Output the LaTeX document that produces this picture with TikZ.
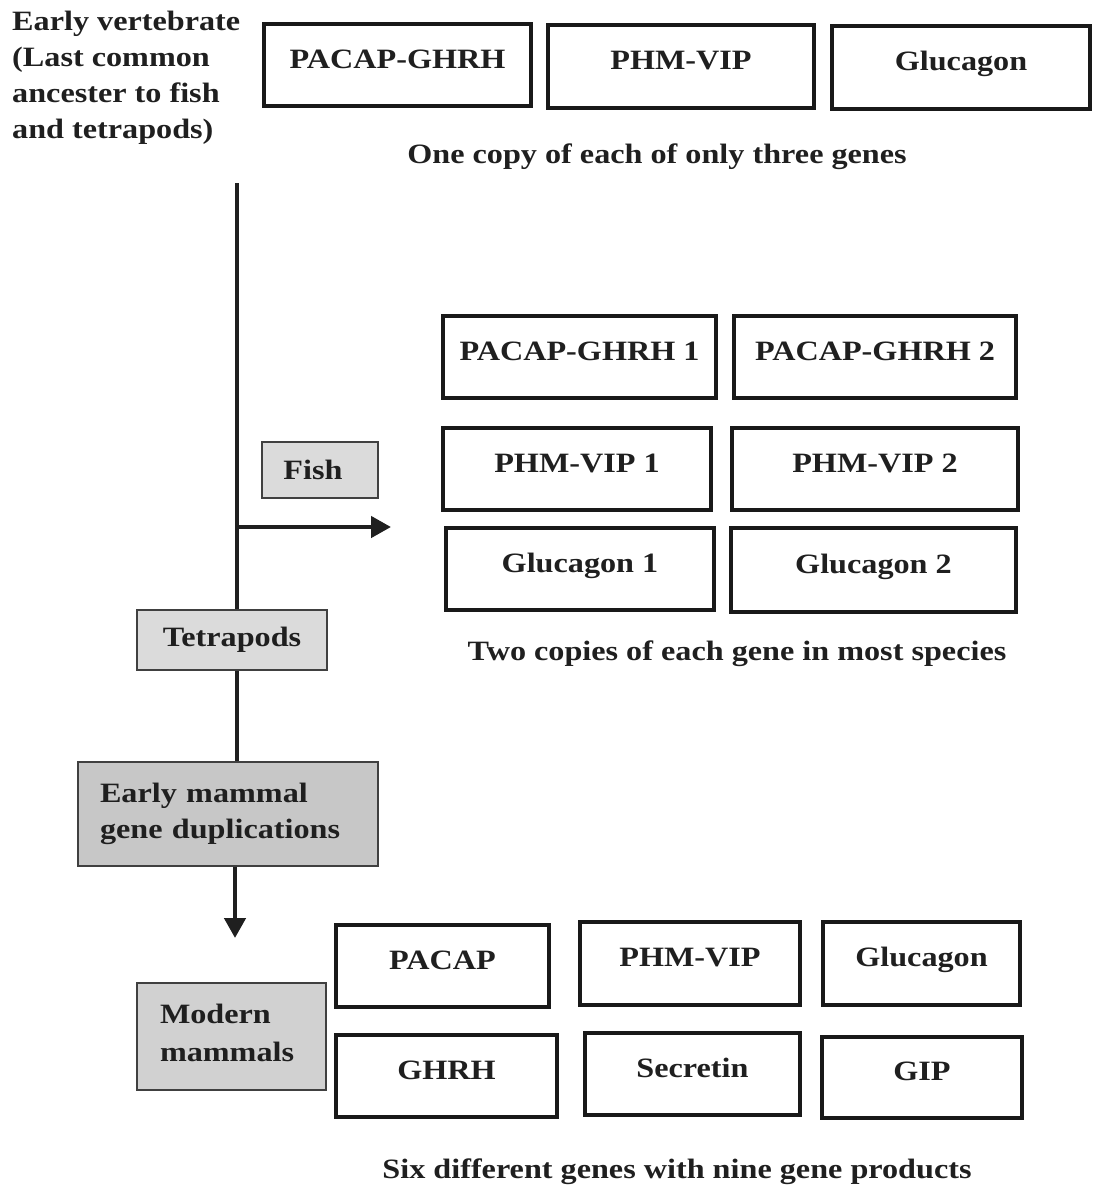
\documentclass[tikz,border=0pt]{standalone}
\usepackage{fontspec}
\setmainfont{Liberation Serif}[FakeStretch=1.15]
\usetikzlibrary{arrows.meta}
\begin{document}
\begin{tikzpicture}[x=1pt,y=-1pt,
  every node/.style={font=\fontsize{28}{36}\selectfont\bfseries, text=black!88},
  gene/.style={draw=black!90, line width=3.5pt, fill=white, inner sep=0pt,
    text height=20pt, text depth=14pt,
    font=\fontsize{28}{34}\selectfont\bfseries},
  stage/.style={draw=black!75, line width=1.3pt, fill=#1, inner sep=0pt},
  stage/.default=black!14,
  caption/.style={anchor=center, font=\fontsize{28}{32}\selectfont\bfseries},
  trunk/.style={draw=black!88, line width=4.5pt},
  tip/.style={-{Triangle[length=20pt,width=21pt]}}
]
\useasboundingbox (0,0) rectangle (1095,1189);

% ancestor label
\node[anchor=north west, align=left, inner sep=0pt] (anc) at (12,11)
  {Early vertebrate\\(Last common\\ancester to fish\\and tetrapods)};

% ancestral genes
\node[gene, minimum width=267pt, minimum height=82pt] (g1) at (397.5,65) {PACAP-GHRH};
\node[gene, minimum width=266pt, minimum height=83pt] (g2) at (681,66.5) {PHM-VIP};
\node[gene, minimum width=258pt, minimum height=83pt] (g3) at (961,67.5) {Glucagon};
\node[caption] (c1) at (657,157) {One copy of each of only three genes};

% fish genes
\node[gene, minimum width=273pt, minimum height=82pt] (f1) at (579.5,357) {PACAP-GHRH 1};
\node[gene, minimum width=282pt, minimum height=82pt] (f2) at (875,357) {PACAP-GHRH 2};
\node[gene, minimum width=268pt, minimum height=82pt] (f3) at (577,469) {PHM-VIP 1};
\node[gene, minimum width=286pt, minimum height=82pt] (f4) at (875,469) {PHM-VIP 2};
\node[gene, minimum width=268pt, minimum height=82pt] (f5) at (580,569) {Glucagon 1};
\node[gene, minimum width=285pt, minimum height=84pt] (f6) at (873.5,570) {Glucagon 2};
\node[caption] (c2) at (737,654) {Two copies of each gene in most species};

% lineage stages
\node[stage, minimum width=116pt, minimum height=56pt] (fish) at (320,470)
  {\hspace*{-14pt}Fish};
\node[stage, minimum width=190pt, minimum height=60pt] (tetra) at (232,640) {Tetrapods};
\node[stage=black!22, minimum width=300pt, minimum height=104pt, align=left,
  text width=256pt] (dup) at (228,814) {Early mammal\\gene duplications};
\node[stage=black!18, minimum width=189pt, minimum height=107pt, align=left,
  text width=143pt, text depth=46pt, font=\fontsize{28}{38}\selectfont\bfseries]
  (mod) at (231.5,1036.5) {Modern\\mammals};

% mammalian genes
\node[gene, minimum width=213pt, minimum height=82pt] (m1) at (442.5,966) {PACAP};
\node[gene, minimum width=220pt, minimum height=83pt] (m2) at (690,963.5) {PHM-VIP};
\node[gene, minimum width=197pt, minimum height=83pt] (m3) at (921.5,963.5) {Glucagon};
\node[gene, minimum width=221pt, minimum height=82pt] (m4) at (446.5,1076) {GHRH};
\node[gene, minimum width=215pt, minimum height=82pt] (m5) at (692.5,1074) {Secretin};
\node[gene, minimum width=200pt, minimum height=81pt] (m6) at (922,1077.5) {GIP};
\node[caption] (c3) at (677,1172) {Six different genes with nine gene products};

% lineage trunk and branches
\coordinate (root) at (237,183);
\coordinate (branch) at (237,527);
\coordinate (fishend) at (391,527);
\coordinate (mamend) at (235,938);
\draw[trunk] (root) -- (root |- tetra.north);
\draw[trunk] (root |- tetra.south) -- (root |- dup.north);
\draw[trunk, tip] (mamend |- dup.south) -- (mamend);
\draw[trunk, tip] (branch) -- (fishend);
\end{tikzpicture}
\end{document}
